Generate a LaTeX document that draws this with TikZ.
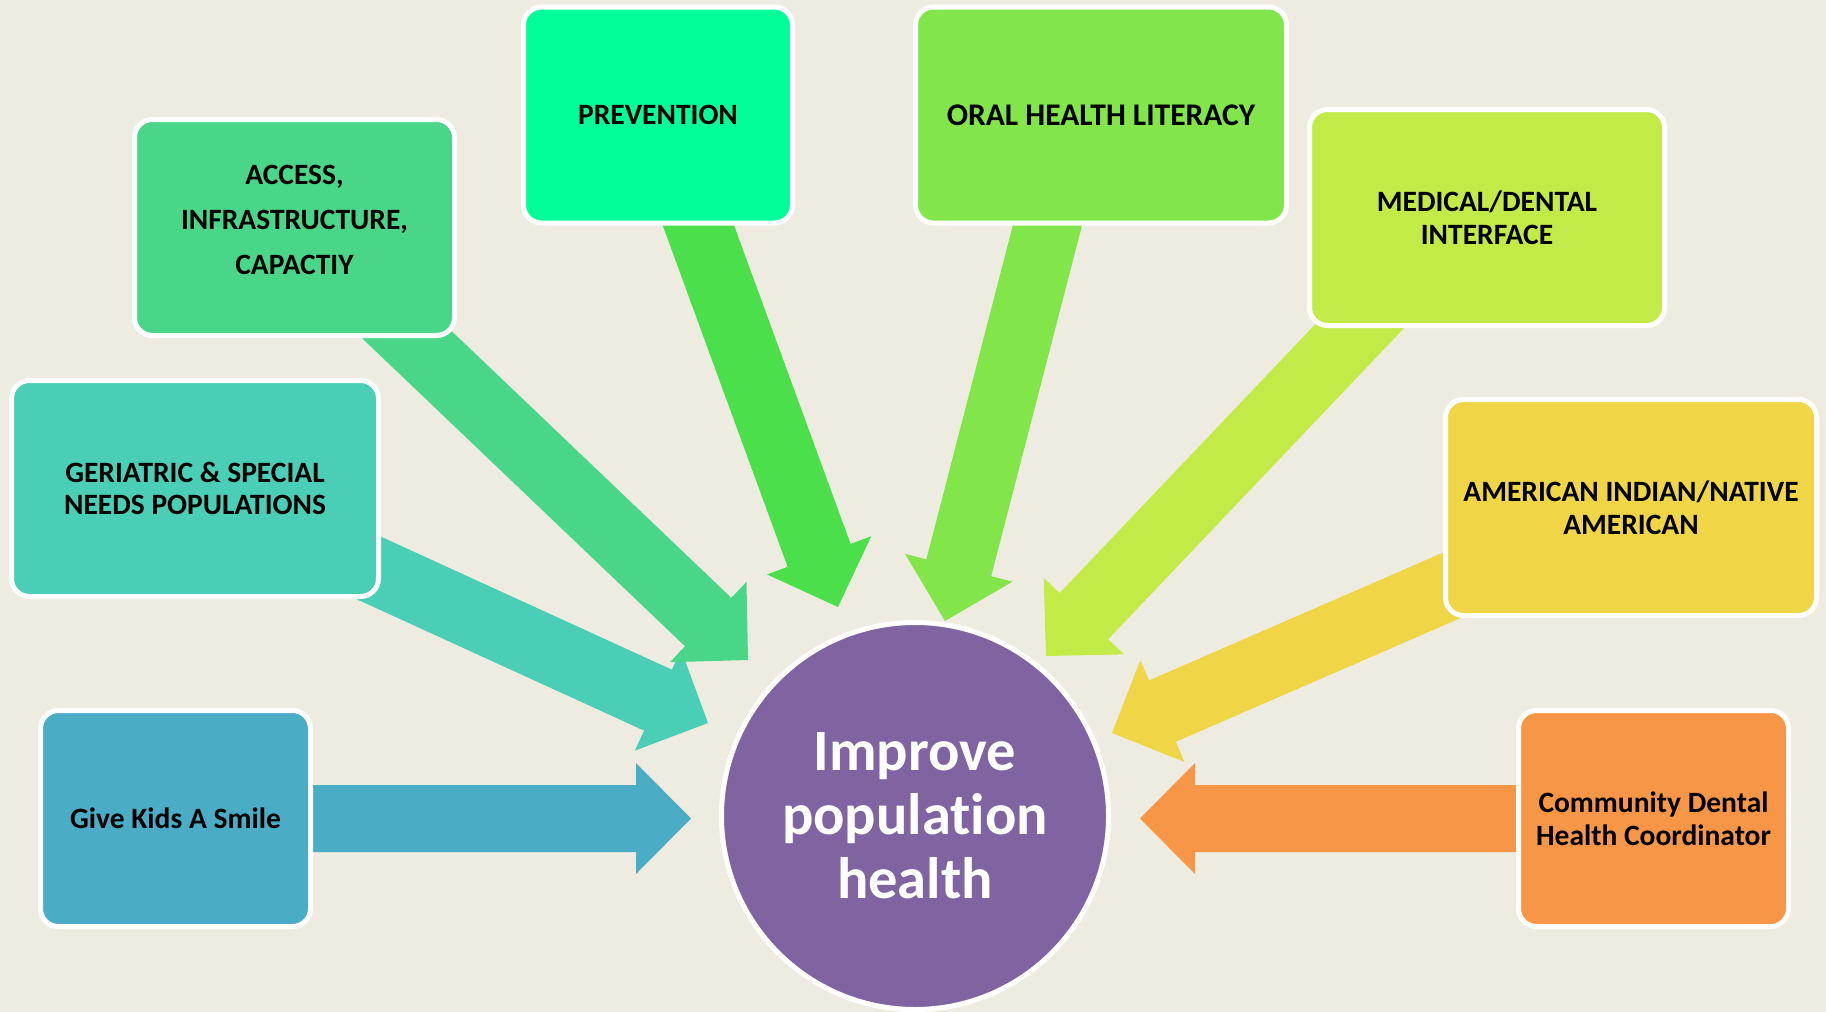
\documentclass[tikz,border=0pt]{standalone}
\usepackage{fontspec}
\setmainfont{Carlito}[Ligatures=NoCommon]
\usepackage{tikz}
\usetikzlibrary{calc}
\usepackage{xcolor}

\definecolor{bgtan}{HTML}{EEECE1}
\definecolor{giveblue}{HTML}{4BACC6}
\definecolor{gerteal}{HTML}{4ACEB6}
\definecolor{accgreen}{HTML}{4AD688}
\definecolor{prevmint}{HTML}{00FF99}
\definecolor{prevarrow}{HTML}{4ADF4B}
\definecolor{oralgreen}{HTML}{82E64A}
\definecolor{medlime}{HTML}{C3EB48}
\definecolor{amyellow}{HTML}{F0D646}
\definecolor{comorange}{HTML}{F79646}
\definecolor{goalpurple}{HTML}{8064A2}

\pgfdeclarelayer{back}
\pgfsetlayers{back,main}

% block arrow: colour, start, tip
\newcommand{\fatarrow}[3]{%
  \coordinate (hb) at ($(#3)!55pt!(#2)$);
  \fill[#1] ($(#2)!33.5pt!90:(#3)$) -- ($(hb)!33.5pt!90:(#3)$) -- ($(hb)!55.5pt!90:(#3)$)
    -- (#3) -- ($(hb)!55.5pt!-90:(#3)$) -- ($(hb)!33.5pt!-90:(#3)$) -- ($(#2)!33.5pt!-90:(#3)$) -- cycle;
}

\begin{document}
\begin{tikzpicture}[x=1pt, y=-1pt,
    box/.style={rounded corners=18pt, draw=white, line width=5pt, minimum height=216pt,
      inner sep=0pt, align=center, font=\fontsize{29.5}{33}\selectfont\bfseries}]
  \useasboundingbox (0,0) rectangle (1826,1012);

  \node[box, fill=accgreen, minimum width=320pt, text depth=16pt, font=\fontsize{29.5}{45}\selectfont\bfseries] (access) at (294.5,227.5) {ACCESS,\\INFRASTRUCTURE,\\CAPACTIY};
  \node[box, fill=prevmint, minimum width=269pt] (prevention) at (658,115) {PREVENTION};
  \node[box, fill=oralgreen, minimum width=371pt, font=\fontsize{31.5}{36}\selectfont\bfseries] (oral) at (1101,115) {ORAL HEALTH LITERACY};
  \node[box, fill=medlime, minimum width=355pt] (medical) at (1487,217.5) {MEDICAL/DENTAL\\INTERFACE};
  \node[box, fill=amyellow, minimum width=371pt] (american) at (1631,507.5) {AMERICAN INDIAN/NATIVE\\AMERICAN};
  \node[box, fill=comorange, minimum width=270pt] (community) at (1653.5,818.5) {Community Dental\\Health Coordinator};
  \node[box, fill=giveblue, minimum width=270pt] (givekids) at (175.5,818.5) {Give Kids A Smile};
  \node[box, fill=gerteal, minimum width=367pt, font=\fontsize{29.5}{32}\selectfont\bfseries] (geriatric) at (195,488.5) {GERIATRIC \& SPECIAL\\NEEDS POPULATIONS};

  \node[circle, fill=goalpurple, draw=white, line width=5pt, minimum size=387pt, inner sep=0pt,
    text=white, align=center, font=\fontsize{58.5}{64}\selectfont\bfseries] (goal) at (915,816) {Improve\\population\\health};

  % arrow tips and shifted starts
  \coordinate (tgive) at (691,818.5);
  \coordinate (tcom) at (1140,818.5);
  \coordinate (tger) at (708,723);
  \coordinate (tacc) at (748,660);
  \coordinate (tprev) at (838,607);
  \coordinate (toral) at (945,621);
  \coordinate (tmed) at (1046,656);
  \coordinate (tam) at (1112,733);
  \coordinate (oral-s) at ([xshift=-25pt]oral.center);
  \coordinate (med-s) at ([xshift=-24pt]medical.center);

  \begin{pgfonlayer}{back}
    \fill[bgtan] (0,0) rectangle (1826,1012);
    \foreach \s/\t/\c in {givekids.center/tgive/giveblue, community.center/tcom/comorange,
        geriatric.center/tger/gerteal, access.center/tacc/accgreen, prevention.center/tprev/prevarrow,
        oral-s/toral/oralgreen, med-s/tmed/medlime, american.center/tam/amyellow}
      \fatarrow{\c}{\s}{\t};
  \end{pgfonlayer}
\end{tikzpicture}
\end{document}
